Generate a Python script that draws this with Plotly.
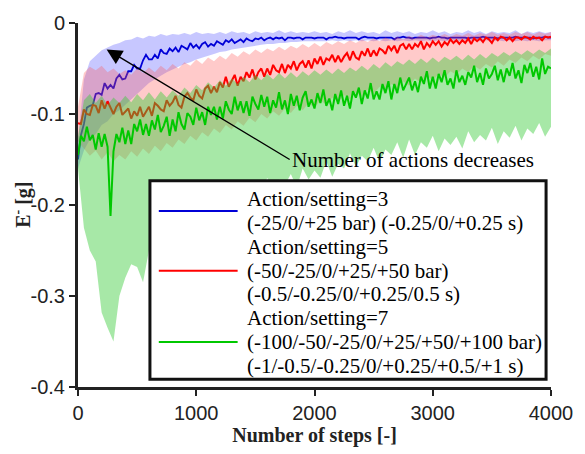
import plotly.graph_objects as go

# ---------------- data ----------------
steps_line = list(range(0, 4001, 25))
steps_band = list(range(0, 4001, 50))

blue_mean = [
    -0.150, -0.123, -0.111, -0.093, -0.091, -0.090, -0.078, -0.077,
    -0.079, -0.066, -0.072, -0.068, -0.072, -0.061, -0.057, -0.062,
    -0.061, -0.053, -0.053, -0.046, -0.050, -0.050, -0.041, -0.035,
    -0.040, -0.040, -0.035, -0.039, -0.029, -0.033, -0.034, -0.028,
    -0.031, -0.027, -0.032, -0.025, -0.027, -0.029, -0.022, -0.027,
    -0.024, -0.028, -0.023, -0.021, -0.026, -0.023, -0.025, -0.020,
    -0.022, -0.024, -0.019, -0.021, -0.018, -0.022, -0.020, -0.018,
    -0.021, -0.017, -0.019, -0.020, -0.017, -0.018, -0.016, -0.019,
    -0.017, -0.016, -0.018, -0.016, -0.017, -0.016, -0.019, -0.016,
    -0.016, -0.017, -0.016, -0.016, -0.018, -0.016, -0.016, -0.016,
    -0.017, -0.016, -0.016, -0.016, -0.018, -0.016, -0.016, -0.015,
    -0.016, -0.016, -0.017, -0.016, -0.016, -0.016, -0.016, -0.018,
    -0.016, -0.015, -0.016, -0.016, -0.016, -0.017, -0.016, -0.016,
    -0.016, -0.016, -0.016, -0.018, -0.016, -0.016, -0.015, -0.016,
    -0.016, -0.017, -0.016, -0.016, -0.016, -0.016, -0.016, -0.017,
    -0.016, -0.016, -0.015, -0.016, -0.016, -0.017, -0.016, -0.016,
    -0.016, -0.016, -0.016, -0.016, -0.017, -0.016, -0.016, -0.016,
    -0.016, -0.015, -0.016, -0.016, -0.016, -0.016, -0.017, -0.016,
    -0.016, -0.016, -0.016, -0.016, -0.015, -0.016, -0.016, -0.016,
    -0.016, -0.016, -0.017, -0.016, -0.016, -0.016, -0.015, -0.016,
    -0.016,
]

red_mean = [
    -0.110, -0.111, -0.095, -0.100, -0.101, -0.090, -0.091, -0.099,
    -0.085, -0.094, -0.086, -0.093, -0.100, -0.092, -0.088, -0.101,
    -0.098, -0.094, -0.105, -0.097, -0.102, -0.092, -0.103, -0.098,
    -0.092, -0.102, -0.088, -0.091, -0.095, -0.097, -0.085, -0.091,
    -0.087, -0.080, -0.090, -0.093, -0.081, -0.077, -0.082, -0.085,
    -0.073, -0.080, -0.083, -0.072, -0.069, -0.077, -0.070, -0.076,
    -0.065, -0.071, -0.059, -0.070, -0.064, -0.057, -0.069, -0.059,
    -0.064, -0.054, -0.060, -0.051, -0.062, -0.054, -0.050, -0.059,
    -0.050, -0.057, -0.046, -0.052, -0.054, -0.045, -0.055, -0.046,
    -0.050, -0.042, -0.052, -0.045, -0.042, -0.049, -0.041, -0.050,
    -0.039, -0.045, -0.037, -0.046, -0.039, -0.041, -0.035, -0.043,
    -0.036, -0.043, -0.037, -0.033, -0.041, -0.031, -0.038, -0.040,
    -0.031, -0.036, -0.028, -0.037, -0.030, -0.036, -0.028, -0.030,
    -0.034, -0.025, -0.030, -0.025, -0.033, -0.025, -0.023, -0.029,
    -0.023, -0.029, -0.023, -0.026, -0.020, -0.029, -0.022, -0.026,
    -0.020, -0.024, -0.020, -0.026, -0.021, -0.024, -0.018, -0.022,
    -0.019, -0.023, -0.019, -0.022, -0.017, -0.023, -0.017, -0.020,
    -0.017, -0.021, -0.016, -0.018, -0.022, -0.016, -0.019, -0.015,
    -0.016, -0.019, -0.016, -0.020, -0.016, -0.016, -0.018, -0.015,
    -0.016, -0.018, -0.015, -0.017, -0.016, -0.019, -0.015, -0.016,
    -0.015,
]

green_mean = [
    -0.145, -0.124, -0.130, -0.114, -0.129, -0.123, -0.139, -0.121,
    -0.136, -0.122, -0.136, -0.212, -0.141, -0.122, -0.131, -0.115,
    -0.133, -0.118, -0.133, -0.111, -0.119, -0.106, -0.123, -0.111,
    -0.124, -0.107, -0.117, -0.101, -0.120, -0.113, -0.103, -0.124,
    -0.106, -0.119, -0.098, -0.111, -0.117, -0.099, -0.103, -0.112,
    -0.093, -0.107, -0.098, -0.112, -0.092, -0.101, -0.092, -0.106,
    -0.092, -0.105, -0.086, -0.095, -0.100, -0.081, -0.096, -0.086,
    -0.099, -0.086, -0.102, -0.081, -0.089, -0.095, -0.079, -0.092,
    -0.081, -0.099, -0.085, -0.093, -0.076, -0.095, -0.085, -0.100,
    -0.078, -0.091, -0.080, -0.096, -0.082, -0.075, -0.092, -0.084,
    -0.094, -0.077, -0.088, -0.073, -0.091, -0.083, -0.096, -0.078,
    -0.089, -0.074, -0.091, -0.080, -0.094, -0.075, -0.082, -0.071,
    -0.089, -0.074, -0.083, -0.066, -0.084, -0.075, -0.084, -0.067,
    -0.077, -0.064, -0.084, -0.067, -0.077, -0.060, -0.074, -0.067,
    -0.060, -0.074, -0.064, -0.076, -0.059, -0.067, -0.053, -0.072,
    -0.059, -0.072, -0.056, -0.065, -0.052, -0.068, -0.061, -0.072,
    -0.052, -0.065, -0.058, -0.068, -0.054, -0.060, -0.047, -0.065,
    -0.055, -0.068, -0.050, -0.061, -0.056, -0.047, -0.063, -0.051,
    -0.065, -0.050, -0.058, -0.044, -0.061, -0.052, -0.066, -0.046,
    -0.055, -0.044, -0.059, -0.048, -0.062, -0.039, -0.056, -0.048,
    -0.050,
]

blue_upper = [
    -0.130, -0.062, -0.042, -0.036, -0.030, -0.027, -0.024, -0.022,
    -0.019, -0.018, -0.015, -0.017, -0.014, -0.015, -0.012, -0.014,
    -0.012, -0.013, -0.011, -0.013, -0.010, -0.012, -0.011, -0.012,
    -0.010, -0.012, -0.009, -0.011, -0.010, -0.012, -0.009, -0.011,
    -0.010, -0.011, -0.008, -0.011, -0.009, -0.011, -0.010, -0.011,
    -0.009, -0.011, -0.010, -0.012, -0.009, -0.011, -0.008, -0.011,
    -0.009, -0.011, -0.010, -0.012, -0.008, -0.011, -0.009, -0.011,
    -0.009, -0.012, -0.010, -0.011, -0.008, -0.011, -0.009, -0.012,
    -0.010, -0.011, -0.008, -0.011, -0.009, -0.012, -0.009, -0.011,
    -0.010, -0.011, -0.008, -0.012, -0.009, -0.011, -0.009, -0.011,
    -0.010,
]
blue_lower = [
    -0.160, -0.140, -0.128, -0.122, -0.112, -0.108, -0.100, -0.096,
    -0.090, -0.084, -0.078, -0.072, -0.066, -0.062, -0.058, -0.054,
    -0.051, -0.048, -0.045, -0.043, -0.040, -0.038, -0.036, -0.034,
    -0.032, -0.031, -0.029, -0.028, -0.027, -0.026, -0.025, -0.024,
    -0.023, -0.023, -0.022, -0.022, -0.021, -0.021, -0.020, -0.020,
    -0.020, -0.020, -0.020, -0.019, -0.020, -0.019, -0.020, -0.019,
    -0.020, -0.019, -0.020, -0.019, -0.020, -0.019, -0.020, -0.019,
    -0.020, -0.019, -0.020, -0.019, -0.020, -0.019, -0.020, -0.019,
    -0.020, -0.019, -0.020, -0.019, -0.020, -0.019, -0.020, -0.019,
    -0.020, -0.019, -0.020, -0.019, -0.020, -0.019, -0.020, -0.019,
    -0.019,
]
red_upper = [
    -0.092, -0.055, -0.048, -0.052, -0.047, -0.054, -0.050, -0.056,
    -0.052, -0.057, -0.050, -0.055, -0.049, -0.054, -0.047, -0.052,
    -0.045, -0.050, -0.043, -0.047, -0.040, -0.045, -0.038, -0.042,
    -0.036, -0.040, -0.033, -0.037, -0.031, -0.035, -0.029, -0.033,
    -0.028, -0.031, -0.026, -0.030, -0.025, -0.028, -0.023, -0.027,
    -0.022, -0.026, -0.021, -0.024, -0.020, -0.023, -0.019, -0.022,
    -0.018, -0.021, -0.017, -0.020, -0.016, -0.019, -0.015, -0.018,
    -0.014, -0.017, -0.013, -0.016, -0.013, -0.015, -0.012, -0.015,
    -0.012, -0.014, -0.011, -0.014, -0.011, -0.013, -0.010, -0.013,
    -0.011, -0.013, -0.010, -0.012, -0.010, -0.013, -0.010, -0.012,
    -0.010,
]
red_lower = [
    -0.130, -0.138, -0.146, -0.140, -0.150, -0.142, -0.152, -0.145,
    -0.150, -0.141, -0.147, -0.138, -0.144, -0.135, -0.141, -0.132,
    -0.137, -0.128, -0.133, -0.124, -0.129, -0.120, -0.125, -0.116,
    -0.121, -0.112, -0.117, -0.108, -0.113, -0.104, -0.109, -0.100,
    -0.105, -0.097, -0.102, -0.094, -0.099, -0.091, -0.096, -0.088,
    -0.093, -0.085, -0.090, -0.082, -0.087, -0.079, -0.084, -0.076,
    -0.081, -0.073, -0.078, -0.070, -0.075, -0.067, -0.072, -0.064,
    -0.069, -0.061, -0.066, -0.058, -0.063, -0.056, -0.060, -0.053,
    -0.057, -0.050, -0.054, -0.047, -0.051, -0.045, -0.049, -0.042,
    -0.047, -0.040, -0.044, -0.038, -0.042, -0.036, -0.040, -0.034,
    -0.036,
]
green_upper = [
    -0.125, -0.085, -0.078, -0.088, -0.080, -0.090, -0.082, -0.088,
    -0.080, -0.087, -0.078, -0.085, -0.076, -0.084, -0.075, -0.082,
    -0.074, -0.080, -0.071, -0.077, -0.068, -0.074, -0.065, -0.071,
    -0.063, -0.069, -0.061, -0.067, -0.059, -0.065, -0.057, -0.063,
    -0.056, -0.062, -0.055, -0.061, -0.054, -0.060, -0.053, -0.058,
    -0.052, -0.057, -0.051, -0.056, -0.050, -0.055, -0.049, -0.053,
    -0.047, -0.052, -0.045, -0.050, -0.043, -0.048, -0.042, -0.046,
    -0.040, -0.045, -0.039, -0.044, -0.038, -0.043, -0.037, -0.041,
    -0.036, -0.041, -0.035, -0.040, -0.034, -0.039, -0.033, -0.037,
    -0.032, -0.036, -0.031, -0.035, -0.030, -0.034, -0.029, -0.033,
    -0.028,
]
green_lower = [
    -0.160, -0.225, -0.250, -0.262, -0.318, -0.335, -0.350, -0.300,
    -0.280, -0.265, -0.268, -0.285, -0.250, -0.236, -0.212, -0.228,
    -0.205, -0.212, -0.192, -0.215, -0.188, -0.200, -0.193, -0.207,
    -0.183, -0.199, -0.186, -0.190, -0.178, -0.197, -0.180, -0.186,
    -0.170, -0.188, -0.172, -0.178, -0.166, -0.181, -0.160, -0.172,
    -0.162, -0.170, -0.152, -0.169, -0.155, -0.160, -0.143, -0.158,
    -0.146, -0.152, -0.137, -0.153, -0.139, -0.145, -0.131, -0.148,
    -0.128, -0.145, -0.131, -0.137, -0.124, -0.141, -0.127, -0.134,
    -0.125, -0.138, -0.119, -0.131, -0.123, -0.129, -0.115, -0.133,
    -0.119, -0.126, -0.113, -0.129, -0.116, -0.122, -0.110, -0.125,
    -0.114,
]

legend_labels = [
    ["Action/setting=3", "(-25/0/+25 bar) (-0.25/0/+0.25 s)"],
    ["Action/setting=5", "(-50/-25/0/+25/+50 bar)", "(-0.5/-0.25/0/+0.25/0.5 s)"],
    ["Action/setting=7", "(-100/-50/-25/0/+25/+50/+100 bar)", "(-1/-0.5/-0.25/0/+0.25/+0.5/+1 s)"],
]
y_tickvals = [0, -0.1, -0.2, -0.3, -0.4]
y_ticktext = ["0", "-0.1", "-0.2", "-0.3", "-0.4"]
x_tickvals = [0, 1000, 2000, 3000, 4000]
x_title = "<b>Number of steps [-]</b>"
y_title = "<b>E<sup>-</sup> [g]</b>"
annotation_text = "Number of actions decreases"
arrow_head = (242, -0.029)
arrow_tail = (1790, -0.150)

# ---------------- styling / layout ----------------
W, H = 585, 454
ML, MR, MT, MB = 78, 27, 18, 60
PW, PH = W - ML - MR, H - MT - MB

def px_x(px):
    return (px - ML) / PW

def px_y(py):
    return (H - MB - py) / PH

line_colors = ["rgb(0,0,215)", "rgb(255,0,0)", "rgb(0,200,0)"]
line_widths = [1.8, 2.0, 2.0]
band_colors = ["rgba(80,80,255,0.32)", "rgba(255,80,80,0.30)", "rgba(60,205,60,0.45)"]
means = [blue_mean, red_mean, green_mean]
uppers = [blue_upper, red_upper, green_upper]
lowers = [blue_lower, red_lower, green_lower]

fig = go.Figure()
for i in range(3):
    fig.add_trace(go.Scatter(
        x=steps_band + steps_band[::-1],
        y=uppers[i] + lowers[i][::-1],
        fill="toself", fillcolor=band_colors[i],
        line=dict(width=0), mode="lines",
        showlegend=False, hoverinfo="skip",
    ))
    fig.add_trace(go.Scatter(
        x=steps_line, y=means[i], mode="lines",
        line=dict(color=line_colors[i], width=line_widths[i]),
        name=legend_labels[i][0], showlegend=False,
    ))

fig.add_annotation(
    x=arrow_head[0], y=arrow_head[1], ax=arrow_tail[0], ay=arrow_tail[1],
    xref="x", yref="y", axref="x", ayref="y",
    text=annotation_text, showarrow=True, arrowhead=2, arrowsize=2.2,
    arrowwidth=1.4, arrowcolor="black", xanchor="left", yanchor="middle",
    font=dict(family="Liberation Serif", size=21, color="black"),
)

# y-axis title as rotated text
fig.add_annotation(
    x=px_x(21), y=0.5, xref="paper", yref="paper", text=y_title,
    textangle=-90, showarrow=False, xanchor="center", yanchor="middle",
    font=dict(family="Liberation Serif", size=20, color="#222"),
)

# hand-built legend box (so that line length and row spacing match)
fig.add_shape(type="rect", xref="paper", yref="paper",
              x0=px_x(151), x1=px_x(553), y0=px_y(386), y1=px_y(181),
              line=dict(color="#111", width=3), fillcolor="white", layer="above")
row_top, row_step = 200, 24.6
row = 0
for i, rows in enumerate(legend_labels):
    mid_row = row + (len(rows) - 1) / 2
    ly = px_y(row_top + mid_row * row_step)
    fig.add_shape(type="line", xref="paper", yref="paper",
                  x0=px_x(160), x1=px_x(240), y0=ly, y1=ly,
                  line=dict(color=line_colors[i], width=2), layer="above")
    for txt in rows:
        fig.add_annotation(
            x=px_x(247), y=px_y(row_top + row * row_step), xref="paper", yref="paper",
            text=txt, showarrow=False, xanchor="left", yanchor="middle",
            font=dict(family="Liberation Serif", size=21, color="black"),
        )
        row += 1

fig.update_layout(
    width=W, height=H,
    margin=dict(l=ML, r=MR, t=MT, b=MB),
    plot_bgcolor="white", paper_bgcolor="white",
    showlegend=False,
    xaxis=dict(
        range=[0, 4000], tickvals=x_tickvals,
        showline=True, linewidth=3, linecolor="#222", mirror=False,
        ticks="outside", ticklen=6, tickwidth=2, tickcolor="#222",
        showgrid=False, zeroline=False,
        tickfont=dict(family="Liberation Sans", size=20, color="#222"),
        title=dict(text=x_title, standoff=4,
                   font=dict(family="Liberation Serif", size=20, color="#222")),
    ),
    yaxis=dict(
        range=[-0.4, 0], tickvals=y_tickvals, ticktext=y_ticktext,
        showline=True, linewidth=3, linecolor="#222",
        ticks="outside", ticklen=6, tickwidth=2, tickcolor="#222",
        showgrid=False, zeroline=False,
        tickfont=dict(family="Liberation Sans", size=20, color="#222"),
    ),
)

fig.write_html("out.html")
